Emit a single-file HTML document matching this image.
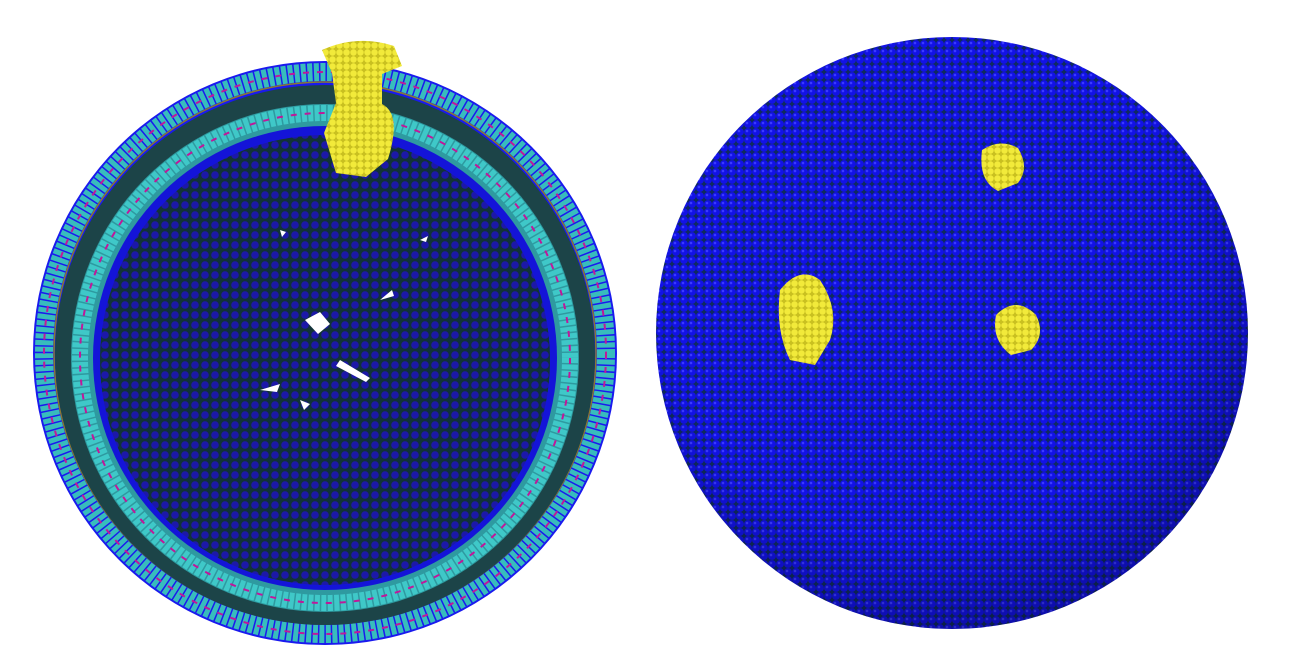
<!DOCTYPE html>
<html><head><meta charset="utf-8"><style>
html,body{margin:0;padding:0;background:#fff;width:1316px;height:672px;overflow:hidden}
svg{display:block}
</style></head><body>
<svg width="1316" height="672" viewBox="0 0 1316 672">
<defs>
<pattern id="dots" width="10" height="10" patternUnits="userSpaceOnUse">
<rect width="10" height="10" fill="#123238"/>
<circle cx="5" cy="5" r="3.8" fill="#1c18a8"/>
</pattern>
<pattern id="bdots" width="8" height="8" patternUnits="userSpaceOnUse">
<rect width="8" height="8" fill="#0f2a60"/>
<circle cx="4" cy="4" r="3.9" fill="#1212e6"/>
<circle cx="3" cy="3" r="1.3" fill="#3a3aff"/>
</pattern>
<pattern id="ydots" width="7" height="7" patternUnits="userSpaceOnUse">
<rect width="7" height="7" fill="#c9c020"/>
<circle cx="3.5" cy="3.5" r="3.2" fill="#f2ea3a"/>
</pattern>
<radialGradient id="shade" cx="0.45" cy="0.4" r="0.6">
<stop offset="0.75" stop-color="#000" stop-opacity="0"/>
<stop offset="1" stop-color="#000" stop-opacity="0.25"/>
</radialGradient>
</defs>

<g>
<circle cx="325" cy="353" r="292" fill="#1a1aee"/>
<circle cx="325" cy="353" r="281" fill="none" stroke="#38bcbc" stroke-width="18" stroke-dasharray="5 1.5"/>
<circle cx="325" cy="353" r="281" fill="none" stroke="#c0189a" stroke-width="2" stroke-dasharray="6 8"/>
<circle cx="325" cy="353" r="271" fill="none" stroke="#8a7a30" stroke-width="1.5"/>
<circle cx="325" cy="355" r="270" fill="#1c4448"/>
<circle cx="325" cy="358" r="254" fill="#2e9aa0"/>
<circle cx="325" cy="358" r="245" fill="none" stroke="#3fc8c8" stroke-width="16" stroke-dasharray="5 1.5"/>
<circle cx="325" cy="358" r="245" fill="none" stroke="#c0189a" stroke-width="2" stroke-dasharray="6 8"/>
<circle cx="325" cy="358" r="232" fill="#1414d8"/>
<circle cx="325" cy="360" r="225" fill="url(#dots)"/>
<g fill="#fff">
<path d="M305 320 l15 -8 l10 12 l-12 10 z"/>
<path d="M340 360 l30 18 l-4 4 l-30 -16 z"/>
<path d="M260 390 l20 -6 l-3 8 z"/>
<path d="M380 300 l12 -10 l2 6 z"/>
<path d="M300 400 l10 4 l-6 6 z"/>
<path d="M420 240 l8 -4 l-2 6 z"/>
<path d="M280 230 l6 2 l-4 5 z"/>
</g>
<path d="M322 50 q35 -16 72 -4 l8 20 l-20 8 l0 30 q20 10 6 55 l-22 18 l-30 -4 l-12 -40 q8 -20 12 -30 l-4 -30 z" fill="url(#ydots)"/>
</g>

<g>
<circle cx="952" cy="333" r="296" fill="url(#bdots)"/>
<circle cx="952" cy="333" r="296" fill="url(#shade)"/>
<path d="M780 290 q20 -25 40 -10 q20 30 10 60 l-15 25 l-25 -5 q-15 -30 -10 -70 z" fill="url(#ydots)"/>
<path d="M982 150 q18 -12 36 -2 q12 20 0 35 l-20 8 q-20 -10 -16 -41 z" fill="url(#ydots)"/>
<path d="M996 315 q20 -20 40 0 q10 20 -5 35 l-20 5 q-20 -15 -15 -40 z" fill="url(#ydots)"/>
</g>
</svg>
</body></html>
